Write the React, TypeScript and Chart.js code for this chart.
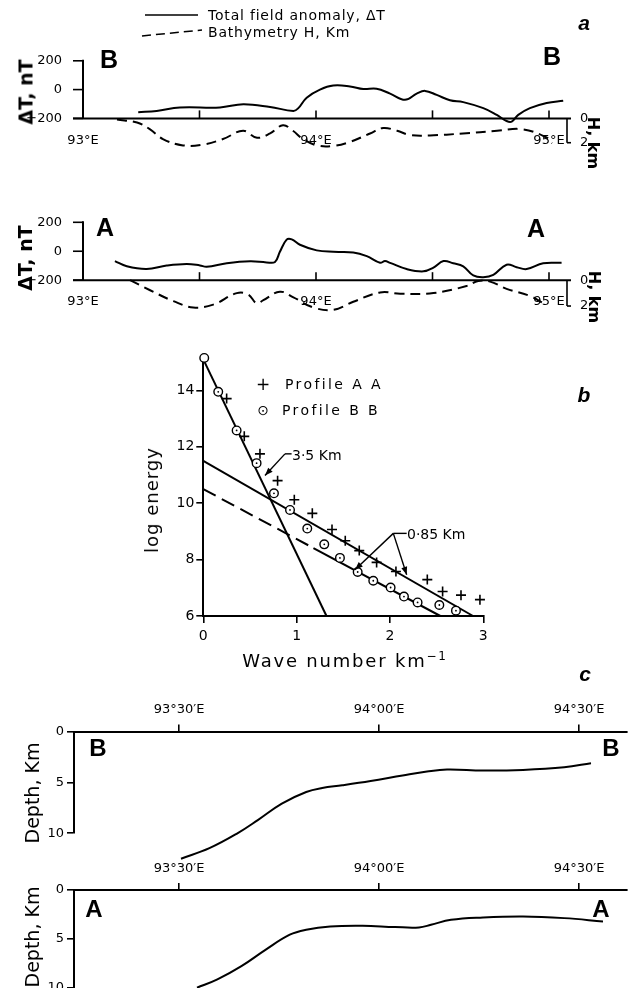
import React, { useEffect, useRef } from 'react';
import { Chart, registerables } from 'chart.js';
Chart.register(...registerables);

const FONT = "'DejaVu Sans', sans-serif";
Chart.defaults.font.family = FONT;
Chart.defaults.color = '#000';

// ---------------- panel a : profile B–B ----------------
const bbAnomLon = [93.237, 93.316, 93.416, 93.588, 93.688, 93.803, 93.903, 93.924, 93.96, 94.017, 94.074, 94.146, 94.203, 94.26, 94.318, 94.382, 94.432, 94.468, 94.518, 94.575, 94.632, 94.718, 94.776, 94.818, 94.84, 94.868, 94.918, 94.99, 95.061];
const bbAnomNT = [-157, -148, -124, -124, -102, -121, -148, -129, -56, 0, 28, 22, 4, 6, -28, -71, -28, -9, -37, -74, -87, -129, -176, -218, -222, -176, -129, -93, -78];
const bbBathLon = [93.146, 93.232, 93.288, 93.343, 93.429, 93.515, 93.601, 93.687, 93.747, 93.803, 93.858, 93.901, 93.944, 94.004, 94.073, 94.146, 94.232, 94.288, 94.348, 94.403, 94.489, 94.631, 94.777, 94.888, 94.991, 95.013];
const bbBathKm = [0.1, 0.34, 0.9, 1.7, 2.22, 2.15, 1.7, 1.02, 1.59, 1.24, 0.56, 1.02, 1.7, 2.22, 2.27, 1.93, 1.24, 0.79, 1.02, 1.36, 1.4, 1.24, 1.02, 0.9, 1.59, 2.04];

// ---------------- panel a : profile A–A ----------------
const aaAnomLon = [93.137, 93.188, 93.273, 93.359, 93.445, 93.502, 93.531, 93.617, 93.717, 93.788, 93.824, 93.845, 93.874, 93.896, 93.931, 94.003, 94.074, 94.16, 94.218, 94.275, 94.296, 94.318, 94.389, 94.461, 94.504, 94.547, 94.589, 94.632, 94.675, 94.718, 94.761, 94.818, 94.861, 94.904, 94.975, 95.054];
const aaAnomNT = [-68, -104, -123, -99, -88, -98, -107, -83, -70, -77, -74, -4, 80, 82, 45, 6, -4, -8, -34, -80, -68, -80, -123, -139, -113, -68, -83, -104, -167, -179, -163, -93, -110, -123, -83, -80];
const aaBathLon = [93.202, 93.288, 93.388, 93.473, 93.559, 93.66, 93.709, 93.745, 93.774, 93.845, 93.903, 93.988, 94.074, 94.16, 94.275, 94.361, 94.504, 94.646, 94.696, 94.747, 94.818, 94.918, 94.975];
const aaBathKm = [0, 0.78, 1.62, 2.11, 1.89, 1.0, 1.11, 1.78, 1.55, 0.89, 1.33, 2.11, 2.29, 1.67, 0.95, 1.05, 1.0, 0.45, 0.07, 0.11, 0.67, 1.22, 1.78];

const anomTicks = [200, 0, -200];
const bathTicks = [0, 2];
const lonLabelTicks = [93, 94, 95];
const lonMarkTicks = [93.5, 94, 94.5, 95];

// ---------------- panel b : spectra ----------------
const wnAA = [0.25, 0.439, 0.607, 0.796, 0.975, 1.168, 1.379, 1.521, 1.671, 1.857, 2.064, 2.4, 2.564, 2.761, 2.964];
const logEAA = [13.71, 12.37, 11.75, 10.8, 10.12, 9.64, 9.07, 8.67, 8.32, 7.9, 7.58, 7.29, 6.87, 6.74, 6.58];
const wnBB = [0.01, 0.16, 0.357, 0.571, 0.757, 0.929, 1.114, 1.296, 1.464, 1.654, 1.821, 2.007, 2.15, 2.296, 2.529, 2.707];
const logEBB = [15.15, 13.95, 12.58, 11.42, 10.35, 9.76, 9.1, 8.54, 8.06, 7.56, 7.25, 7.01, 6.69, 6.48, 6.39, 6.19];
const deepFitWn = [0, 1.32];
const deepFitLogE = [15.1, 6];
const aaFitWn = [0, 2.89];
const aaFitLogE = [11.5, 6];
const bbFitWn = [0, 1.18, 2.54];
const bbFitLogE = [10.5, 8.41, 6];
const wnTicks = [0, 1, 2, 3];
const logETicks = [6, 8, 10, 12, 14];
// annotation leaders (wave number, log energy)
const leaderStubs = [[[0.875, 11.75], [0.946, 11.75]], [[2.036, 8.93], [2.179, 8.93]]];
const leaderArrows = [[[0.875, 11.75], [0.661, 10.98]], [[2.036, 8.93], [1.625, 7.64]], [[2.036, 8.93], [2.179, 7.46]]];

// ---------------- panel c : depth sections ----------------
const bbDepthLon = [93.505, 93.576, 93.646, 93.697, 93.757, 93.818, 93.858, 93.908, 93.979, 94.059, 94.12, 94.17, 94.26, 94.36, 94.463, 94.53];
const bbDepthKm = [12.5, 11.46, 10.0, 8.7, 7.08, 5.94, 5.55, 5.29, 4.87, 4.32, 3.93, 3.73, 3.83, 3.77, 3.51, 3.12];
const aaDepthLon = [93.545, 93.596, 93.656, 93.717, 93.777, 93.818, 93.878, 93.959, 94.04, 94.1, 94.13, 94.18, 94.26, 94.36, 94.463, 94.56];
const aaDepthKm = [9.97, 9.12, 7.77, 6.08, 4.56, 4.05, 3.72, 3.65, 3.78, 3.82, 3.55, 3.04, 2.8, 2.7, 2.87, 3.21];
const depthLonTicks = [93.5, 94, 94.5];
const depthLonLabels = ['93°30′E', '94°00′E', '94°30′E'];
const depthTicks = [0, 5, 10];

const pts = (xs: number[], ys: number[]) => xs.map((x, i) => ({ x, y: ys[i] }));
const setTicks = (vals: number[]) => (s: any) => { s.ticks = vals.map((v) => ({ value: v })); };

function seg(ctx: CanvasRenderingContext2D, x1: number, y1: number, x2: number, y2: number) {
  ctx.beginPath(); ctx.moveTo(x1, y1); ctx.lineTo(x2, y2); ctx.stroke();
}

const frameA = {
  id: 'frameA',
  afterDraw(chart: any) {
    const { ctx, chartArea: ca, scales } = chart;
    const x = scales.x, y = scales.y, y2 = scales.y2;
    const by = y.getPixelForValue(-200);
    ctx.save();
    ctx.strokeStyle = '#000';
    ctx.lineWidth = 2;
    seg(ctx, ca.left - 10, by, ca.right + 4, by);
    seg(ctx, ca.left, y.getPixelForValue(200) - 1, ca.left, by);
    ctx.lineWidth = 1.6;
    for (const v of anomTicks) seg(ctx, ca.left - 10, y.getPixelForValue(v), ca.left, y.getPixelForValue(v));
    for (const v of lonMarkTicks) seg(ctx, x.getPixelForValue(v), by, x.getPixelForValue(v), by - 8);
    const h0 = y2.getPixelForValue(0), h2 = y2.getPixelForValue(2);
    seg(ctx, ca.right, h0, ca.right, h2);
    seg(ctx, ca.right, h2, ca.right + 4, h2);
    ctx.restore();
  },
};

const annotB = {
  id: 'annotB',
  afterDatasetsDraw(chart: any) {
    const { ctx, scales } = chart;
    const x = scales.x, y = scales.y;
    const P = (p: number[]) => [x.getPixelForValue(p[0]), y.getPixelForValue(p[1])];
    ctx.save();
    ctx.strokeStyle = '#000';
    ctx.fillStyle = '#000';
    ctx.lineWidth = 1.4;
    for (const s of leaderStubs) { const a = P(s[0]), b = P(s[1]); seg(ctx, a[0], a[1], b[0], b[1]); }
    for (const l of leaderArrows) {
      const a = P(l[0]), b = P(l[1]);
      seg(ctx, a[0], a[1], b[0], b[1]);
      const ang = Math.atan2(b[1] - a[1], b[0] - a[0]);
      const L = 8, Wd = 3;
      ctx.beginPath();
      ctx.moveTo(b[0], b[1]);
      ctx.lineTo(b[0] - L * Math.cos(ang) + Wd * Math.sin(ang), b[1] - L * Math.sin(ang) - Wd * Math.cos(ang));
      ctx.lineTo(b[0] - L * Math.cos(ang) - Wd * Math.sin(ang), b[1] - L * Math.sin(ang) + Wd * Math.cos(ang));
      ctx.closePath();
      ctx.fill();
    }
    ctx.restore();
  },
};

const noGrid = { display: false };
const noBorder = { display: false };

function profileConfig(p: any) {
  const left = 83, right = 567, W = 632;
  const padBottom = 6;
  const chartBottom = p.canvasTop + p.canvasH - padBottom;
  const ntPx = (p.yBase - p.yTop) / 400;
  const ntMin = -200 - (chartBottom - p.yBase) / ntPx;
  const kmMin = -(p.yBase - p.yTop) / p.kmPx;
  const kmMax = (chartBottom - p.yBase) / p.kmPx;
  return {
    type: 'scatter',
    data: {
      datasets: [
        { data: pts(p.anomLon, p.anomNT), yAxisID: 'y', showLine: true, borderColor: '#000', borderWidth: 2, pointRadius: 0, tension: 0.4, clip: false },
        { data: pts(p.bathLon, p.bathKm), yAxisID: 'y2', showLine: true, borderColor: '#000', borderWidth: 2, borderDash: [10, 6], pointRadius: 0, tension: 0.4, clip: false },
      ],
    },
    options: {
      responsive: false,
      animation: false,
      events: [],
      layout: { padding: { top: p.yTop - p.canvasTop, bottom: padBottom, left: 0, right: 0 } },
      plugins: { legend: { display: false }, tooltip: { enabled: false } },
      scales: {
        x: {
          type: 'linear', min: 93, max: 93 + (right - left) / 233, position: { y: -200 },
          grid: noGrid, border: noBorder, afterBuildTicks: setTicks(lonLabelTicks),
          ticks: { color: '#000', font: { size: 13 }, padding: 6, maxRotation: 0, autoSkip: false, callback: (v: number) => `${v}°E` },
        },
        y: {
          type: 'linear', position: 'left', min: ntMin, max: 200,
          grid: noGrid, border: noBorder, afterBuildTicks: setTicks(anomTicks),
          afterFit: (s: any) => { s.width = left; },
          ticks: { color: '#000', font: { size: 13 }, padding: 13, callback: (v: number) => (v < 0 ? '−' + Math.abs(v) : String(v)) },
        },
        y2: {
          type: 'linear', position: 'right', reverse: true, min: kmMin, max: kmMax,
          grid: noGrid, border: noBorder, afterBuildTicks: setTicks(bathTicks),
          afterFit: (s: any) => { s.width = W - right; },
          ticks: { color: '#000', font: { size: 13 }, padding: 5 },
        },
      },
    },
    plugins: [frameA],
  };
}

const axisGrid = { display: true, drawOnChartArea: false, drawTicks: true, tickLength: 7, color: '#000', lineWidth: 1.6 };
const axisBorder = { display: true, color: '#000', width: 2 };

function spectrumConfig() {
  const canvasTop = 340, canvasH = 320;
  return {
    type: 'scatter',
    data: {
      datasets: [
        { data: pts(wnBB, logEBB), pointStyle: 'circle', pointRadius: 0.9, backgroundColor: '#000', borderWidth: 0, order: 0, clip: false },
        { data: pts(wnBB, logEBB), pointStyle: 'circle', pointRadius: 4.3, backgroundColor: '#fff', borderColor: '#000', borderWidth: 1.4, order: 1, clip: false },
        { data: pts(wnAA, logEAA), pointStyle: 'cross', pointRadius: 5, borderColor: '#000', borderWidth: 1.6, order: 2, clip: false },
        { data: pts(deepFitWn, deepFitLogE), showLine: true, pointRadius: 0, borderColor: '#000', borderWidth: 2, order: 3, clip: false },
        { data: pts(aaFitWn, aaFitLogE), showLine: true, pointRadius: 0, borderColor: '#000', borderWidth: 2, order: 3, clip: false },
        {
          data: pts(bbFitWn, bbFitLogE), showLine: true, pointRadius: 0, borderColor: '#000', borderWidth: 2, order: 3, clip: false,
          segment: { borderDash: (c: any) => (c.p0DataIndex === 0 ? [14, 7] : []) },
        },
      ],
    },
    options: {
      responsive: false,
      animation: false,
      events: [],
      layout: { padding: { top: 362.2 - canvasTop, bottom: 0, left: 0, right: 632 - 483.3 } },
      plugins: { legend: { display: false }, tooltip: { enabled: false } },
      scales: {
        x: {
          type: 'linear', min: 0, max: 3, position: 'bottom', grid: axisGrid, border: axisBorder,
          afterBuildTicks: setTicks(wnTicks), afterFit: (s: any) => { s.height = canvasTop + canvasH - 616; },
          ticks: { color: '#000', font: { size: 14 }, padding: 5, maxRotation: 0, autoSkip: false },
        },
        y: {
          type: 'linear', min: 6, max: 15, position: 'left', grid: axisGrid, border: axisBorder,
          afterBuildTicks: setTicks(logETicks), afterFit: (s: any) => { s.width = 203.3; },
          ticks: { color: '#000', font: { size: 14 }, padding: 2 },
        },
      },
    },
    plugins: [annotB],
  };
}

function depthConfig(p: any) {
  const left = 74, right = 627, W = 632;
  return {
    type: 'scatter',
    data: {
      datasets: [
        { data: pts(p.lon, p.km), showLine: true, pointRadius: 0, borderColor: '#000', borderWidth: 2, tension: 0.4, clip: false },
      ],
    },
    options: {
      responsive: false,
      animation: false,
      events: [],
      layout: { padding: { top: 0, bottom: p.canvasTop + p.canvasH - p.y10, left: 0, right: W - right } },
      plugins: { legend: { display: false }, tooltip: { enabled: false } },
      scales: {
        x: {
          type: 'linear', position: 'top', min: 93.2375, max: 93.2375 + (right - left) / 400,
          grid: axisGrid, border: axisBorder, afterBuildTicks: setTicks(depthLonTicks),
          afterFit: (s: any) => { s.height = p.y0 - p.canvasTop; },
          ticks: { color: '#000', font: { size: 13 }, padding: 7, maxRotation: 0, autoSkip: false, callback: (_v: number, i: number) => depthLonLabels[i] },
        },
        y: {
          type: 'linear', position: 'left', reverse: true, min: 0, max: 10,
          grid: axisGrid, border: axisBorder, afterBuildTicks: setTicks(depthTicks),
          afterFit: (s: any) => { s.width = left; },
          ticks: { color: '#000', font: { size: 13 }, padding: 3 },
        },
      },
    },
  };
}

type TP = { x: number; y: number; rot?: number; size?: number; weight?: number; italic?: boolean; ls?: number; start?: boolean; family?: string; children: any };
function Txt({ x, y, rot = 0, size = 14, weight = 400, italic = false, ls = 0, start = false, family = FONT, children }: TP) {
  return (
    <div
      style={{
        position: 'absolute', left: x, top: y, whiteSpace: 'nowrap', lineHeight: 1,
        transform: `translate(${start ? '0' : '-50%'}, -50%) rotate(${rot}deg)`,
        fontSize: size, fontWeight: weight, fontStyle: italic ? 'italic' : 'normal',
        letterSpacing: ls, fontFamily: family, color: '#000',
      }}
    >
      {children}
    </div>
  );
}

const BOLD = "'Liberation Sans', Arial, sans-serif";

export default function App() {
  const rBB = useRef<HTMLCanvasElement>(null);
  const rAA = useRef<HTMLCanvasElement>(null);
  const rSp = useRef<HTMLCanvasElement>(null);
  const rDB = useRef<HTMLCanvasElement>(null);
  const rDA = useRef<HTMLCanvasElement>(null);

  useEffect(() => {
    const charts = [
      new Chart(rBB.current as any, profileConfig({ anomLon: bbAnomLon, anomNT: bbAnomNT, bathLon: bbBathLon, bathKm: bbBathKm, canvasTop: 40, canvasH: 130, yTop: 55, yBase: 126, kmPx: 15 }) as any),
      new Chart(rAA.current as any, profileConfig({ anomLon: aaAnomLon, anomNT: aaAnomNT, bathLon: aaBathLon, bathKm: aaBathKm, canvasTop: 200, canvasH: 135, yTop: 222.3, yBase: 289.5, kmPx: 15 }) as any),
      new Chart(rSp.current as any, spectrumConfig() as any),
      new Chart(rDB.current as any, depthConfig({ lon: bbDepthLon, km: bbDepthKm, canvasTop: 690, canvasH: 180, y0: 731.5, y10: 833.3 }) as any),
      new Chart(rDA.current as any, depthConfig({ lon: aaDepthLon, km: aaDepthKm, canvasTop: 845, canvasH: 165, y0: 890, y10: 988 }) as any),
    ];
    return () => charts.forEach((c) => c.destroy());
  }, []);

  return (
    <div style={{ position: 'fixed', left: 0, top: 0, width: 632, height: 988, overflow: 'hidden', background: '#fff' }}>
      <canvas ref={rBB} width={632} height={130} style={{ position: 'absolute', left: 0, top: 40 }} />
      <canvas ref={rAA} width={632} height={135} style={{ position: 'absolute', left: 0, top: 200 }} />
      <canvas ref={rSp} width={632} height={320} style={{ position: 'absolute', left: 0, top: 340 }} />
      <canvas ref={rDB} width={632} height={180} style={{ position: 'absolute', left: 0, top: 690 }} />
      <canvas ref={rDA} width={632} height={165} style={{ position: 'absolute', left: 0, top: 845 }} />

      <svg width={632} height={60} style={{ position: 'absolute', left: 0, top: 0 }}>
        <line x1={145} y1={15} x2={198} y2={15} stroke="#000" strokeWidth={1.5} />
        <line x1={142} y1={36} x2={202} y2={30} stroke="#000" strokeWidth={1.5} strokeDasharray="9 5" />
      </svg>

      {/* panel a */}
      <Txt x={208} y={15} size={14} ls={0.8} start>Total field anomaly, ΔT</Txt>
      <Txt x={208} y={32} size={14} ls={0.8} start>Bathymetry H, Km</Txt>
      <Txt x={584} y={22} size={21} weight={700} italic family={BOLD}>a</Txt>
      <Txt x={109} y={59} size={25} weight={700} family={BOLD}>B</Txt>
      <Txt x={552} y={56} size={25} weight={700} family={BOLD}>B</Txt>
      <Txt x={26} y={92} size={19} weight={700} rot={-90}>ΔT, nT</Txt>
      <Txt x={593} y={143} size={16} weight={700} rot={90}>H, km</Txt>
      <Txt x={105} y={227} size={25} weight={700} family={BOLD}>A</Txt>
      <Txt x={536} y={228} size={25} weight={700} family={BOLD}>A</Txt>
      <Txt x={25} y={258} size={19} weight={700} rot={-90}>ΔT, nT</Txt>
      <Txt x={594} y={297} size={16} weight={700} rot={90}>H, km</Txt>

      {/* panel b */}
      <Txt x={584} y={394} size={21} weight={700} italic family={BOLD}>b</Txt>
      <Txt x={263} y={384} size={17}>+</Txt>
      <Txt x={285} y={384} size={14} ls={2.4} start>Profile A A</Txt>
      <Txt x={263} y={410} size={14}>⊙</Txt>
      <Txt x={282} y={410} size={14} ls={2.4} start>Profile B B</Txt>
      <Txt x={292} y={455} size={14} start>3·5 Km</Txt>
      <Txt x={407} y={534} size={14} start>0·85 Km</Txt>
      <Txt x={152} y={500} size={18} ls={1} rot={-90}>log energy</Txt>
      <Txt x={345} y={660} size={18} ls={1.8}>Wave number km<sup style={{ fontSize: 12 }}>−1</sup></Txt>

      {/* panel c */}
      <Txt x={585} y={673} size={21} weight={700} italic family={BOLD}>c</Txt>
      <Txt x={98} y={748} size={24} weight={700} family={BOLD}>B</Txt>
      <Txt x={611} y={748} size={24} weight={700} family={BOLD}>B</Txt>
      <Txt x={32} y={793} size={19} rot={-90}>Depth, Km</Txt>
      <Txt x={94} y={909} size={24} weight={700} family={BOLD}>A</Txt>
      <Txt x={601} y={909} size={24} weight={700} family={BOLD}>A</Txt>
      <Txt x={32} y={937} size={19} rot={-90}>Depth, Km</Txt>
    </div>
  );
}
